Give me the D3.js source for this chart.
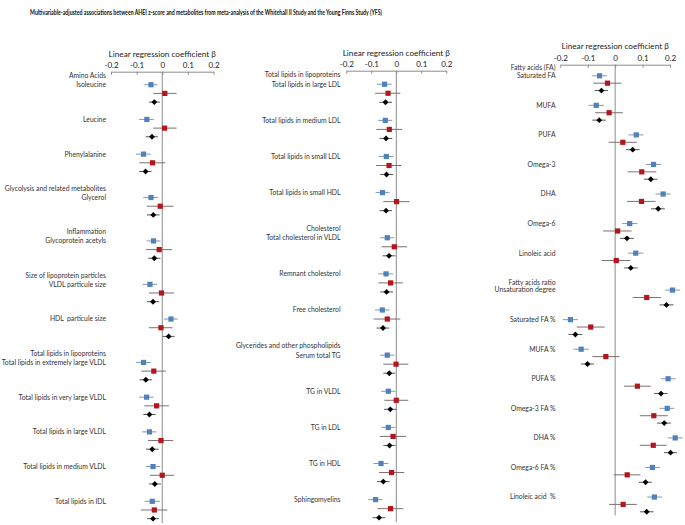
<!DOCTYPE html>
<html>
<head>
<meta charset="utf-8">
<script src="https://cdn.jsdelivr.net/npm/d3@7"></script>
<style>
  body { margin: 0; background: #fff; }
  svg { display: block; font-family: "Lato", "Liberation Sans", sans-serif; }
  .title { font-size: 7px; font-weight: bold; fill: #111; }
  .label { font-size: 6.8px; fill: #333; white-space: pre; }
  .axis-title { font-size: 8.2px; fill: #222; }
  .axis text { font-size: 8px; fill: #222; font-family: "Lato", "Liberation Sans", sans-serif; }
  .axis path, .axis line { stroke: #8c8c8c; }
</style>
</head>
<body>
<svg id="svg" width="685" height="525"></svg>
<script>
  // panel 1
  var p1Names = ["Isoleucine", "Leucine", "Phenylalanine", "Glycerol", "Glycoprotein acetyls",
    "VLDL particule size", "HDL  particule size", "Total lipids in extremely large VLDL",
    "Total lipids in very large VLDL", "Total lipids in large VLDL", "Total lipids in medium VLDL",
    "Total lipids in IDL"];
  var p1Headers = ["Amino Acids", "", "", "Glycolysis and related metabolites", "Inflammation",
    "Size of lipoprotein particles", "", "Total lipids in lipoproteins", "", "", "", ""];
  // [beta, lower, upper]
  var p1Whitehall = [[-0.044, -0.072, -0.018], [-0.060, -0.090, -0.033], [-0.073, -0.103, -0.046],
    [-0.044, -0.074, -0.017], [-0.034, -0.061, -0.007], [-0.048, -0.077, -0.020],
    [0.034, 0.007, 0.061], [-0.073, -0.103, -0.044], [-0.061, -0.090, -0.034],
    [-0.050, -0.079, -0.022], [-0.036, -0.065, -0.008], [-0.039, -0.069, -0.009]];
  var p1Yfs = [[0.010, -0.035, 0.056], [0.009, -0.035, 0.056], [-0.038, -0.090, 0.012],
    [-0.008, -0.060, 0.043], [-0.012, -0.063, 0.038], [-0.003, -0.052, 0.046],
    [-0.005, -0.052, 0.040], [-0.033, -0.082, 0.014], [-0.022, -0.070, 0.026],
    [-0.005, -0.055, 0.043], [0.000, -0.048, 0.047], [-0.031, -0.083, 0.020]];
  var p1Meta = [[-0.031, -0.052, -0.009], [-0.040, -0.064, -0.017], [-0.065, -0.090, -0.042],
    [-0.035, -0.060, -0.010], [-0.031, -0.055, -0.007], [-0.036, -0.060, -0.012],
    [0.025, 0.001, 0.048], [-0.064, -0.089, -0.040], [-0.050, -0.074, -0.026],
    [-0.039, -0.063, -0.014], [-0.029, -0.052, -0.005], [-0.036, -0.060, -0.013]];

  // panel 2
  var p2Names = ["Total lipids in large LDL", "Total lipids in medium LDL", "Total lipids in small LDL",
    "Total lipids in small HDL", "Total cholesterol in VLDL", "Remnant cholesterol", "Free cholesterol",
    "Serum total TG", "TG in VLDL", "TG in LDL", "TG in HDL", "Sphingomyelins"];
  var p2Headers = ["Total lipids in lipoproteins", "", "", "", "Cholesterol", "", "",
    "Glycerides and other phospholipids", "", "", "", ""];
  var p2Whitehall = [[-0.047, -0.077, -0.019], [-0.044, -0.073, -0.016], [-0.040, -0.071, -0.012],
    [-0.055, -0.083, -0.027], [-0.036, -0.065, -0.008], [-0.041, -0.072, -0.013],
    [-0.056, -0.085, -0.027], [-0.036, -0.065, -0.007], [-0.032, -0.061, -0.004],
    [-0.032, -0.061, -0.004], [-0.061, -0.091, -0.032], [-0.083, -0.112, -0.055]];
  var p2Yfs = [[-0.033, -0.085, 0.016], [-0.028, -0.080, 0.023], [-0.029, -0.081, 0.021],
    [0.001, -0.052, 0.053], [-0.008, -0.059, 0.043], [-0.023, -0.072, 0.027],
    [-0.036, -0.091, 0.016], [-0.001, -0.052, 0.048], [0.000, -0.048, 0.048],
    [-0.013, -0.065, 0.039], [-0.019, -0.069, 0.032], [-0.023, -0.075, 0.028]];
  var p2Meta = [[-0.043, -0.068, -0.017], [-0.041, -0.067, -0.016], [-0.039, -0.064, -0.013],
    [-0.041, -0.067, -0.017], [-0.029, -0.055, -0.004], [-0.039, -0.064, -0.013],
    [-0.053, -0.079, -0.028], [-0.028, -0.052, -0.004], [-0.024, -0.049, 0.001],
    [-0.027, -0.052, -0.003], [-0.052, -0.077, -0.027], [-0.069, -0.095, -0.044]];

  // panel 3
  var p3Names = ["Saturated FA", "MUFA", "PUFA", "Omega-3", "DHA", "Omega-6", "Linoleic acid",
    "Unsaturation degree", "Saturated FA %", "MUFA %", "PUFA %", "Omega-3 FA %", "DHA %",
    "Omega-6 FA %", "Linoleic acid  %"];
  var p3Headers = ["Fatty acids (FA)", "", "", "", "", "", "", "Fatty acids ratio",
    "", "", "", "", "", "", ""];
  var p3Whitehall = [[-0.057, -0.085, -0.030], [-0.069, -0.097, -0.041], [0.077, 0.049, 0.103],
    [0.140, 0.112, 0.167], [0.175, 0.147, 0.202], [0.053, 0.026, 0.081], [0.075, 0.047, 0.103],
    [0.209, 0.182, 0.237], [-0.163, -0.191, -0.136], [-0.124, -0.152, -0.096],
    [0.193, 0.167, 0.220], [0.190, 0.162, 0.216], [0.219, 0.192, 0.247],
    [0.136, 0.109, 0.164], [0.143, 0.117, 0.171]];
  var p3Yfs = [[-0.028, -0.080, 0.023], [-0.022, -0.073, 0.028], [0.028, -0.024, 0.079],
    [0.097, 0.045, 0.150], [0.096, 0.044, 0.147], [0.009, -0.044, 0.060], [0.004, -0.049, 0.055],
    [0.115, 0.064, 0.167], [-0.089, -0.140, -0.038], [-0.034, -0.083, 0.016],
    [0.081, 0.032, 0.130], [0.141, 0.090, 0.192], [0.139, 0.090, 0.188],
    [0.044, -0.005, 0.092], [0.029, -0.022, 0.079]];
  var p3Meta = [[-0.050, -0.075, -0.026], [-0.058, -0.083, -0.034], [0.064, 0.039, 0.089],
    [0.130, 0.105, 0.154], [0.157, 0.131, 0.181], [0.043, 0.018, 0.068], [0.057, 0.033, 0.082],
    [0.187, 0.162, 0.213], [-0.145, -0.170, -0.120], [-0.101, -0.125, -0.077],
    [0.167, 0.142, 0.191], [0.179, 0.153, 0.203], [0.202, 0.178, 0.225],
    [0.111, 0.086, 0.134], [0.115, 0.091, 0.140]];

  var xTicks = [-0.2, -0.1, 0, 0.1, 0.2];
  var axisTitle = "Linear regression coefficient \u03b2";
  var chartTitle = "Multivariable-adjusted associations between AHEI z-score and metabolites from meta-analysis of the Whitehall II Study and the Young Finns Study (YFS)";

  var panels = [
    { names: p1Names, headers: p1Headers, wh: p1Whitehall, yfs: p1Yfs, meta: p1Meta,
      labelX: 106, x0: 111, x1: 213.5, axisY: 71.7, bottom: 523, titleY: 57 },
    { names: p2Names, headers: p2Headers, wh: p2Whitehall, yfs: p2Yfs, meta: p2Meta,
      labelX: 340.5, x0: 346.3, x1: 446.3, axisY: 70.7, bottom: 522.2, titleY: 56 },
    { names: p3Names, headers: p3Headers, wh: p3Whitehall, yfs: p3Yfs, meta: p3Meta,
      labelX: 555.5, x0: 560.3, x1: 670, axisY: 64.7, bottom: 515.5, titleY: 48.5 }
  ];

  var svg = d3.select("#svg");

  svg.append("text")
    .attr("class", "title")
    .attr("x", 30)
    .attr("y", 15)
    .attr("textLength", 352)
    .attr("lengthAdjust", "spacingAndGlyphs")
    .text(chartTitle);

  panels.forEach(function(p) {
    // each metabolite takes 3 rows + a blank one, group headers add one more
    var rows = [];
    var r = 0;
    p.names.forEach(function(name, i) {
      if (p.headers[i]) r += 1;
      rows.push(r);
      r += 4;
    });
    var nRows = r - 1;

    var x = d3.scaleLinear().domain([-0.2, 0.2]).range([p.x0, p.x1]);
    var y = d3.scaleBand().domain(d3.range(nRows)).range([p.axisY, p.bottom]);
    var yc = function(k) { return y(k) + y.bandwidth() / 2; };

    var g = svg.append("g");

    g.append("line")
      .attr("x1", x(0)).attr("x2", x(0))
      .attr("y1", p.axisY).attr("y2", p.bottom)
      .attr("stroke", "#8c8c8c")
      .attr("stroke-width", 1);

    g.append("g")
      .attr("class", "axis")
      .attr("transform", "translate(0," + p.axisY + ")")
      .call(d3.axisTop(x)
        .tickValues(xTicks)
        .tickSizeInner(-3)
        .tickSizeOuter(0)
        .tickPadding(4)
        .tickFormat(function(d) { return String(+d.toFixed(1)); }));

    g.append("text")
      .attr("class", "axis-title")
      .attr("x", x(0))
      .attr("y", p.titleY)
      .attr("text-anchor", "middle")
      .text(axisTitle);

    p.names.forEach(function(name, i) {
      var ry = yc(rows[i]);
      g.append("text")
        .attr("class", "label")
        .attr("x", p.labelX)
        .attr("y", ry)
        .attr("dy", "0.35em")
        .attr("text-anchor", "end")
        .text(name);
      if (p.headers[i])
        g.append("text")
          .attr("class", "label")
          .attr("x", p.labelX)
          .attr("y", yc(rows[i] - 1) - 0.4)
          .attr("dy", "0.35em")
          .attr("text-anchor", "end")
          .text(p.headers[i]);
    });

    var series = [
      { data: p.wh, off: 0, color: "#4f81bd", ci: "#8497b0", shape: "square" },
      { data: p.yfs, off: 1, color: "#b3161c", ci: "#7f6f6f", shape: "square" },
      { data: p.meta, off: 2, color: "#000", ci: "#555", shape: "diamond" }
    ];

    series.forEach(function(s) {
      g.selectAll(null)
        .data(s.data)
        .enter().append("line")
          .attr("x1", function(d) { return x(d[1]); })
          .attr("x2", function(d) { return x(d[2]); })
          .attr("y1", function(d, i) { return yc(rows[i] + s.off); })
          .attr("y2", function(d, i) { return yc(rows[i] + s.off); })
          .attr("stroke", s.ci)
          .attr("stroke-width", 1);

      if (s.shape === "square")
        g.selectAll(null)
          .data(s.data)
          .enter().append("rect")
            .attr("x", function(d) { return x(d[0]) - 2.6; })
            .attr("y", function(d, i) { return yc(rows[i] + s.off) - 2.6; })
            .attr("width", 5.2)
            .attr("height", 5.2)
            .attr("fill", s.color);
      else
        g.selectAll(null)
          .data(s.data)
          .enter().append("path")
            .attr("d", d3.symbol().type(d3.symbolDiamond2).size(22))
            .attr("transform", function(d, i) {
              return "translate(" + x(d[0]) + "," + yc(rows[i] + s.off) + ")";
            })
            .attr("fill", s.color);
    });
  });
</script>
</body>
</html>
